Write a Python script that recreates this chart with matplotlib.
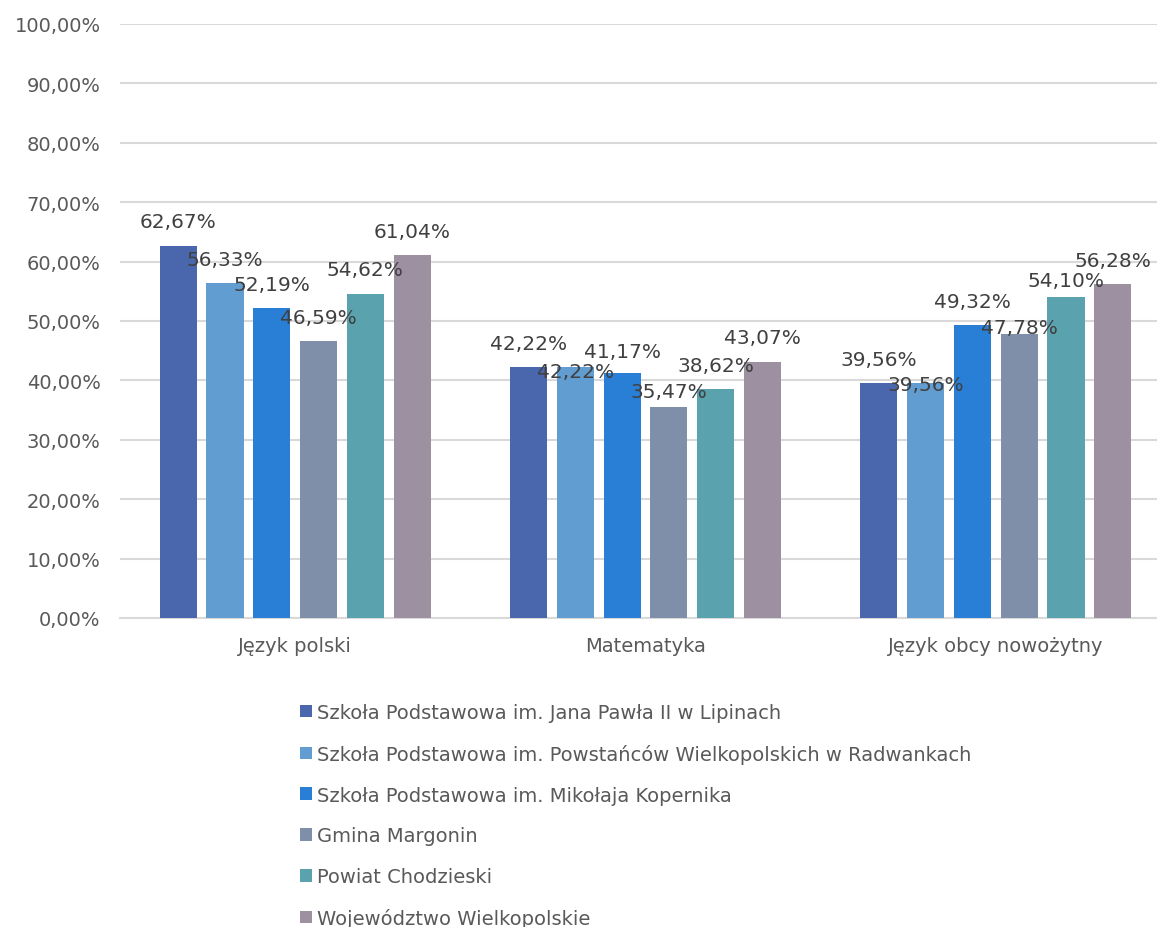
import numpy as np
import matplotlib
matplotlib.use("Agg")
import matplotlib.pyplot as plt
from matplotlib.ticker import FuncFormatter

plt.rcParams['font.family'] = ['DejaVu Sans']

# categories and series
przedmioty = ['Język polski', 'Matematyka', 'Język obcy nowożytny']
serie = ['Szkoła Podstawowa im. Jana Pawła II w Lipinach',
         'Szkoła Podstawowa im. Powstańców Wielkopolskich w Radwankach',
         'Szkoła Podstawowa im. Mikołaja Kopernika',
         'Gmina Margonin',
         'Powiat Chodzieski',
         'Województwo Wielkopolskie']
lipiny = [62.67, 42.22, 39.56]
radwanki = [56.33, 42.22, 39.56]
kopernik = [52.19, 41.17, 49.32]
gmina = [46.59, 35.47, 47.78]
powiat = [54.62, 38.62, 54.10]
wojewodztwo = [61.04, 43.07, 56.28]
kolory = ['#4A66AC', '#629DD1', '#297FD5', '#7F8FA9', '#5AA2AE', '#9D90A0']

# label offset above bar top (pixels), as placed in the original chart
label_dy = [[24, 24, 24],
            [24, -4, -1],
            [23, 22, 24],
            [24, 16, 7],
            [24, 23, 16],
            [24, 25, 23]]

wartosci = [lipiny, radwanki, kopernik, gmina, powiat, wojewodztwo]

fig = plt.figure(figsize=(11.57, 9.28), dpi=100)
ax = fig.add_axes([120/1157, 1-619/928, 1-120/1157, (619-25)/928])

x = np.arange(len(przedmioty))
pitch = 0.1335
width = 0.106
for i, (nazwa, vals, kol) in enumerate(zip(serie, wartosci, kolory)):
    pos = x + (i - 2.5) * pitch
    bars = ax.bar(pos, vals, width, color=kol, label=nazwa, zorder=3)
    for j, (b, v) in enumerate(zip(bars, vals)):
        ax.annotate(f'{v:.2f}%'.replace('.', ','),
                    (b.get_x() + b.get_width()/2, v),
                    xytext=(0, label_dy[i][j] * 0.72), textcoords='offset points',
                    ha='center', va='center', fontsize=14.5, color='#404040',
                    zorder=5)

ax.set_ylim(0, 100)
ax.set_xlim(-0.5, 2.46)
ax.set_yticks(np.arange(0, 101, 10))
ax.yaxis.set_major_formatter(FuncFormatter(lambda v, p: f'{v:.2f}%'.replace('.', ',')))
ax.set_xticks(x)
ax.set_xticklabels(przedmioty)
ax.tick_params(axis='both', length=0, labelsize=14, colors='#595959')
ax.tick_params(axis='y', pad=14)
ax.tick_params(axis='x', pad=13)
ax.grid(axis='y', color='#D9D9D9', linewidth=1.5, zorder=0)
for s in ['top', 'right', 'left']:
    ax.spines[s].set_visible(False)
ax.spines['bottom'].set_color('#D9D9D9')
ax.spines['bottom'].set_linewidth(1.5)

fig.legend(loc='upper left', bbox_to_anchor=(300/1157, 1-704/928),
           frameon=False, fontsize=14, labelcolor='#595959',
           handlelength=0.62, handleheight=0.62, handletextpad=0.25,
           labelspacing=1.12, borderpad=0, borderaxespad=0)

fig.savefig('out.png', dpi=100)
